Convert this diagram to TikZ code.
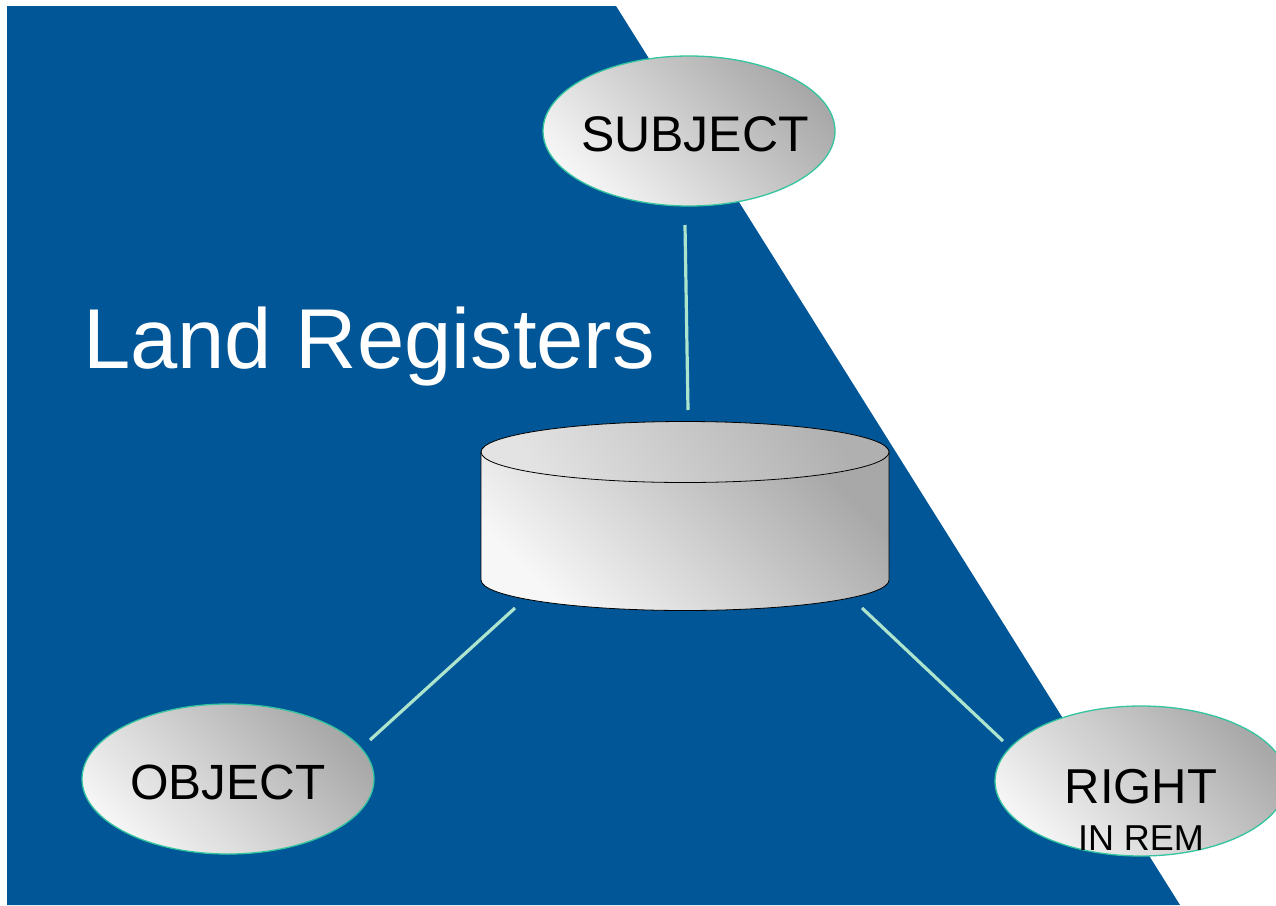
\documentclass[tikz,border=0pt]{standalone}
\usepackage{fontspec}
\setmainfont{Liberation Sans}
\usetikzlibrary{shapes.geometric}
\definecolor{myblue}{RGB}{0,86,150}
\definecolor{mymint}{RGB}{172,228,206}
\definecolor{myteal}{RGB}{52,196,158}
\tikzstyle{bubble}=[ellipse,draw=myteal,line width=1.3,minimum width=292,minimum height=150,inner sep=0,left color=gray!8,right color=gray!68,shading angle=135]
\tikzstyle{word}=[anchor=base,inner sep=0,font=\fontsize{50}{60}\selectfont]
\tikzstyle{link}=[mymint,line width=3.2]

\begin{document}
\begin{tikzpicture}[x=1pt,y=-1pt]
  \clip (0,0) rectangle (1276,905);

  % BACKGROUND
  \fill[myblue] (7,6) -- (616,6) -- (1180,905) -- (7,905) -- cycle;

  % TITLE
  \node[anchor=base west,inner sep=0,white,font=\fontsize{85}{100}\selectfont] (title) at (83,368) {Land Registers};

  % REGISTER
  \coordinate (reg) at (685,516);
  \shade[draw=black,line width=0.8,left color=gray!6,right color=gray!68,shading angle=135]
    (481,452) -- (481,580) arc[start angle=180,end angle=360,x radius=204pt,y radius=30.5pt] -- (889,452) -- cycle;
  \shade[draw=black,line width=0.8,left color=gray!22,right color=gray!62,shading angle=120]
    (685,452) ellipse[x radius=204pt,y radius=30.5pt];
  \coordinate (regN) at (688,410);
  \coordinate (regSW) at (515,608);
  \coordinate (regSE) at (862,608);

  % BUBBLES
  \node[bubble] (subj) at (689,131) {};
  \node[word] (subjtext) at (695,151) {SUBJECT};
  \node[bubble] (obj) at (228,779) {};
  \node[word,font=\fontsize{49.5}{60}\selectfont] (objtext) at (228,799) {OBJECT};
  \node[bubble] (rem) at (1141,781) {};
  \node[word,font=\fontsize{49}{60}\selectfont] (remtop) at (1141,803) {RIGHT};
  \node[word,font=\fontsize{36}{40}\selectfont] (rembot) at (1141,850) {IN REM};
  \coordinate (subjS) at (685,225);
  \coordinate (objNE) at (370,740);
  \coordinate (remNW) at (1003,741);

  % LINKS
  \draw[link] (subjS) -- (regN);
  \draw[link] (regSW) -- (objNE);
  \draw[link] (regSE) -- (remNW);
\end{tikzpicture}
\end{document}
